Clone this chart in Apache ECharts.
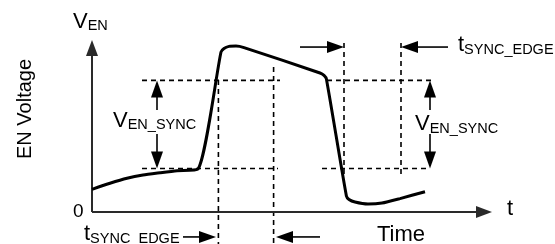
<!DOCTYPE html>
<html>
<head>
<meta charset="utf-8">
<script src="https://cdn.jsdelivr.net/npm/echarts@6/dist/echarts.min.js"></script>
<style>
  html, body { margin: 0; padding: 0; background: #fff; }
  #chart { width: 555px; height: 244px; }
</style>
</head>
<body>
<div id="chart"></div>
<script>
// EN pin waveform, [time, voltage] in arbitrary units
const enWave = [
  [0, 13.2], [4.5, 16.7], [8.75, 19.6], [12.75, 21.5], [17, 22.8], [21.25, 24.0], [26.5, 25.0],
  [32.25, 93.0], [33, 95.1], [34.25, 96.3], [36, 96.5], [38, 95.6],
  [57, 80.8], [58, 79.4], [58.6, 77.3],
  [63.6, 9.3], [64.25, 7.3], [65.75, 5.8], [69, 4.65], [72.5, 5.2], [77, 7.8], [83.25, 11.8]
]

// sync thresholds and edge markers
const vSyncHigh = 76.5
const vSyncLow = 25.3
const tMarks = [31.6, 45.4, 63, 77.25]

// dashed guides [t1, v1, t2, v2]
const guides = [
  [12.5, vSyncHigh, 47, vSyncHigh],
  [58.75, vSyncHigh, 85, vSyncHigh],
  [12.5, vSyncLow, 46.5, vSyncLow],
  [57.5, vSyncLow, 84.5, vSyncLow],
  [tMarks[0], 76.7, tMarks[0], -18.6],
  [tMarks[1], 84.3, tMarks[1], -18.6],
  [tMarks[2], 98.3, tMarks[2], 19.8],
  [tMarks[3], 98.3, tMarks[3], 19.8]
]

// axes [from t, from v, tip t, tip v]
const axisArrows = [
  [0, 0, 0, 100],
  [0, 0, 100, 0]
]

// dimension arrows [from t, from v, tip t, tip v]
const dimArrows = [
  [52, 95.9, tMarks[2], 95.9],
  [89, 95.9, tMarks[3], 95.9],
  [22.75, -14.5, 31, -14.5],
  [57, -14.5, 46, -14.5],
  [16.25, 59.3, 16.25, vSyncHigh],
  [16.25, 45.3, 16.25, vSyncLow],
  [84.5, 59.3, 84.5, vSyncHigh],
  [84.5, 45.3, 84.5, vSyncLow]
]

// text labels
const labelText = ['V', 'V', 'V', 't', 't', '0', 't', 'Time', 'EN Voltage']
const labelSub = ['EN', 'EN_SYNC', 'EN_SYNC', 'SYNC_EDGE', 'SYNC_EDGE', '', '', '', '']
const labelAt = [
  [-4.75, 106.2], [5.25, 48.7], [80.75, 46.7], [91.5, 92.4], [-2, -17.4],
  [-4.75, -3.7], [103.75, -2.9], [71.25, -17.8], [-15, 59.9]
]

const FONT = '"Liberation Sans", Arial, Helvetica, sans-serif'
const mainSize = [22, 22, 22, 22, 22, 19, 22, 22, 20]
const subSize = 14.5

const measureCtx = document.createElement('canvas').getContext('2d')
function textWidth(text, size) {
  measureCtx.font = size + 'px ' + FONT
  return measureCtx.measureText(text).width
}

function arrowItem(width, color, head, half) {
  return function(params, api) {
    const a = api.coord([api.value(0), api.value(1)])
    const b = api.coord([api.value(2), api.value(3)])
    const len = Math.hypot(b[0] - a[0], b[1] - a[1])
    const ux = (b[0] - a[0]) / len
    const uy = (b[1] - a[1]) / len
    const bx = b[0] - ux * head
    const by = b[1] - uy * head
    return {
      type: 'group',
      children: [
        {
          type: 'line',
          shape: { x1: a[0], y1: a[1], x2: bx + ux, y2: by + uy },
          style: { stroke: color, lineWidth: width }
        },
        {
          type: 'polygon',
          shape: { points: [[b[0], b[1]], [bx - uy * half, by + ux * half], [bx + uy * half, by - ux * half]] },
          style: { fill: color }
        }
      ]
    }
  }
}

function dashedItem(params, api) {
  const a = api.coord([api.value(0), api.value(1)])
  const b = api.coord([api.value(2), api.value(3)])
  return {
    type: 'line',
    shape: { x1: a[0], y1: a[1], x2: b[0], y2: b[1] },
    style: { stroke: '#000', lineWidth: 1.6, lineDash: [5, 4] }
  }
}

function labelItem(params, api) {
  const i = params.dataIndex
  const p = api.coord([api.value(0), api.value(1)])
  const size = mainSize[i]
  if (labelText[i] === 'EN Voltage') {
    // rotated, reads bottom to top
    return {
      type: 'text',
      x: p[0] - 0.35 * size,
      y: p[1],
      rotation: Math.PI / 2,
      style: { text: labelText[i], fontSize: size, fontFamily: FONT, fill: '#000', align: 'center', verticalAlign: 'middle' }
    }
  }
  const children = [{
    type: 'text',
    x: p[0],
    y: p[1] - 0.35 * size,
    style: { text: labelText[i], fontSize: size, fontFamily: FONT, fill: '#000', align: 'left', verticalAlign: 'middle' }
  }]
  if (labelSub[i]) {
    children.push({
      type: 'text',
      x: p[0] + textWidth(labelText[i], size),
      y: p[1] + 2 - 0.35 * subSize,
      style: { text: labelSub[i], fontSize: subSize, fontFamily: FONT, fill: '#000', align: 'left', verticalAlign: 'middle' }
    })
  }
  return { type: 'group', children: children }
}

const chart = echarts.init(document.getElementById('chart'), null, { renderer: 'canvas' })
chart.setOption({
  animation: false,
  backgroundColor: '#fff',
  grid: { left: 92, right: 63, top: 40, bottom: 32 },
  xAxis: { type: 'value', min: 0, max: 100, show: false },
  yAxis: { type: 'value', min: 0, max: 100, show: false },
  series: [
    {
      type: 'custom',
      name: 'guides',
      renderItem: dashedItem,
      encode: { x: [0, 2], y: [1, 3] },
      data: guides,
      z: 1
    },
    {
      type: 'custom',
      name: 'axes',
      renderItem: arrowItem(2, '#2a2a2a', 16, 6),
      encode: { x: [0, 2], y: [1, 3] },
      data: axisArrows,
      z: 2
    },
    {
      type: 'custom',
      name: 'dims',
      renderItem: arrowItem(1.6, '#000', 17, 6),
      encode: { x: [0, 2], y: [1, 3] },
      data: dimArrows,
      z: 2
    },
    {
      type: 'line',
      name: 'EN',
      data: enWave,
      showSymbol: false,
      smooth: 0.2,
      lineStyle: { color: '#000', width: 3 },
      z: 3
    },
    {
      type: 'custom',
      name: 'labels',
      renderItem: labelItem,
      data: labelAt,
      z: 4
    }
  ]
})
</script>
</body>
</html>
